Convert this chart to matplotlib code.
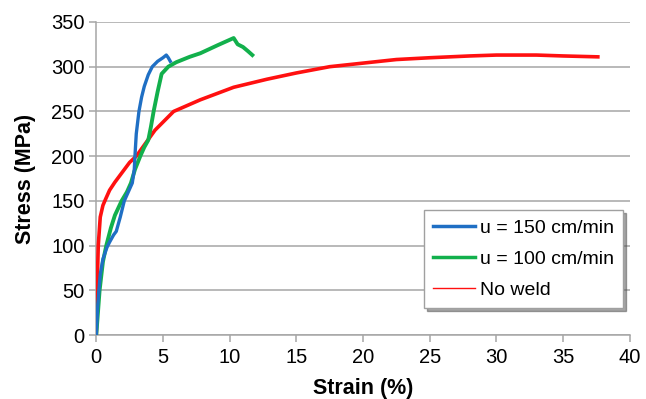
import matplotlib
matplotlib.use("Agg")
import matplotlib.pyplot as plt
from matplotlib.lines import Line2D

plt.rcParams['font.family'] = ['Liberation Sans', 'DejaVu Sans']

# u = 150 cm/min
blue_strain = [0, 0.1, 0.2, 0.3, 0.5, 0.8, 1.0, 1.3, 1.5, 1.8, 2.1, 2.4, 2.7, 2.85, 2.9, 3.0,
               3.2, 3.4, 3.6, 3.9, 4.2, 4.6, 5.0, 5.25, 5.4, 5.55]
blue_stress = [0, 30, 50, 68, 85, 98, 104, 112, 116, 132, 150, 160, 170, 185, 200, 225,
               250, 266, 278, 291, 300, 306, 310, 313, 310, 306]

# u = 100 cm/min
green_strain = [0, 0.1, 0.25, 0.5, 0.75, 1.1, 1.4, 1.9, 2.3, 2.6, 2.9, 3.3, 3.6, 3.9, 4.1, 4.3,
                4.6, 4.9, 5.4, 6.0, 7.0, 7.8, 9.1, 10.0, 10.3, 10.6, 11.0, 11.4, 11.7]
green_stress = [0, 20, 50, 82, 100, 120, 134, 150, 160, 170, 185, 200, 210, 218, 233, 250,
                272, 292, 300, 305, 311, 315, 324, 330, 332, 325, 322, 317, 313]

# No weld
red_strain = [0, 0.05, 0.1, 0.15, 0.3, 0.5, 0.7, 1.0, 1.4, 2.0, 2.5, 3.0, 4.4, 5.8, 7.8, 10.3,
              12.8, 15.0, 17.5, 20.0, 22.5, 25.0, 28.0, 30.0, 33.0, 35.0, 37.6]
red_stress = [0, 40, 72, 100, 132, 145, 152, 162, 171, 183, 193, 200, 229, 250, 263, 277,
              286, 293, 300, 304, 308, 310, 312, 313, 313, 312, 311]

labels = ["u = 150 cm/min", "u = 100 cm/min", "No weld"]
colors = ["#1f6fc4", "#12b04c", "#ff1010"]

x_ticks = list(range(0, 41, 5))
y_ticks = list(range(0, 351, 50))

fig = plt.figure(figsize=(6.46, 3.99), dpi=100)
ax = fig.add_axes([0.149, 0.160, 0.826, 0.785])

ax.plot(red_strain, red_stress, color=colors[2], lw=2.6, solid_joinstyle='round', zorder=3)
ax.plot(green_strain, green_stress, color=colors[1], lw=2.8, solid_joinstyle='round', zorder=4)
ax.plot(blue_strain, blue_stress, color=colors[0], lw=2.4, solid_joinstyle='round', zorder=5)

ax.set_xlim(0, 40)
ax.set_ylim(0, 350)
ax.set_xticks(x_ticks)
ax.set_yticks(y_ticks)
ax.yaxis.grid(True, color='#a6a6a6', lw=1.1)
ax.set_axisbelow(True)
for s in ['top', 'right']:
    ax.spines[s].set_visible(False)
for s in ['left', 'bottom']:
    ax.spines[s].set_color('#a6a6a6')
    ax.spines[s].set_linewidth(1.1)
ax.tick_params(axis='both', colors='#a6a6a6', length=5, width=1.1, labelsize=14.5,
               labelcolor='black', direction='out')
ax.tick_params(axis='y', pad=3.5)
ax.tick_params(axis='x', pad=4)

ax.set_xlabel("Strain (%)", fontsize=15.5, fontweight='bold', labelpad=8)
ax.set_ylabel("Stress (MPa)", fontsize=15.5, fontweight='bold', labelpad=11)

handles = [Line2D([0], [0], color=colors[0], lw=2.5),
           Line2D([0], [0], color=colors[1], lw=2.5),
           Line2D([0], [0], color=colors[2], lw=1.0)]
leg = ax.legend(handles, labels, loc='upper right', bbox_to_anchor=(0.987, 0.399),
                borderaxespad=0, fontsize=14, frameon=True, fancybox=False, shadow=True,
                edgecolor='#a0a0a0', handlelength=2.2, handletextpad=0.25, labelspacing=0.7,
                borderpad=0.45)
leg.get_frame().set_linewidth(1.0)

fig.savefig("out.png", dpi=100)
